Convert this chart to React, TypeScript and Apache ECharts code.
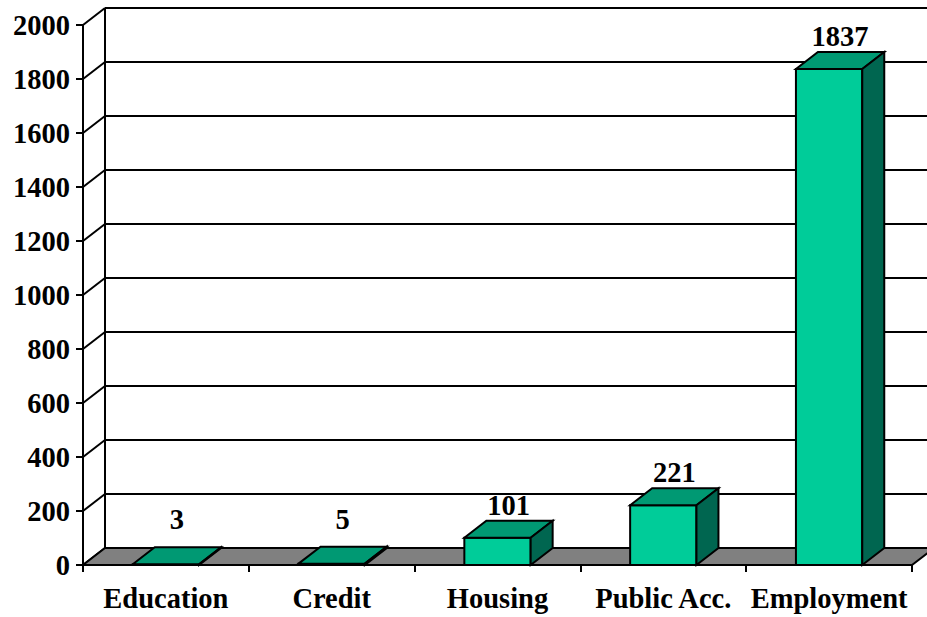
import React, { useEffect, useRef } from "react";
import * as echarts from "echarts";

const categories = ["Education", "Credit", "Housing", "Public Acc.", "Employment"];
const values = [3, 5, 101, 221, 1837];
const yTicks = [0, 200, 400, 600, 800, 1000, 1200, 1400, 1600, 1800, 2000];

const DX = 22;
const DY = -17;
const FONT = "'Liberation Serif', 'Times New Roman', serif";
const FS = 28.5;

export default function App() {
  const ref = useRef<HTMLDivElement>(null);
  useEffect(() => {
    if (!ref.current) return;
    const chart = echarts.init(ref.current, undefined, { renderer: "svg" });
    const lineStyle = { stroke: "#000", lineWidth: 2 };
    const option: any = {
      animation: false,
      backgroundColor: "#fff",
      grid: { left: 83, right: 15, top: 25, bottom: 52, containLabel: false },
      xAxis: {
        type: "category",
        data: categories,
        boundaryGap: true,
        axisLine: { show: true, lineStyle: { color: "#000", width: 2 } },
        axisTick: { show: true, length: 7, lineStyle: { color: "#000", width: 2 } },
        axisLabel: {
          interval: 0,
          hideOverlap: false,
          color: "#000",
          fontFamily: FONT,
          fontWeight: "bold",
          fontSize: FS,
          margin: 19,
        },
        splitLine: { show: false },
        z: 5,
      },
      yAxis: {
        type: "value",
        min: 0,
        max: 2000,
        interval: 200,
        axisLine: { show: true, lineStyle: { color: "#000", width: 2 } },
        axisTick: { show: true, length: 7, lineStyle: { color: "#000", width: 2 } },
        axisLabel: {
          formatter: (v: number) => String(v),
          color: "#000",
          fontFamily: FONT,
          fontWeight: "bold",
          fontSize: FS,
          margin: 13,
        },
        splitLine: { show: false },
        z: 5,
      },
      series: [
        {
          type: "custom",
          z: 1,
          silent: true,
          data: yTicks.map((v) => [0, v]),
          renderItem: (params: any, api: any) => {
            const cs = params.coordSys;
            const y = api.coord([0, api.value(1)])[1];
            const x0 = cs.x;
            const x1 = cs.x + cs.width;
            const children: any[] = [
              { type: "line", shape: { x1: x0, y1: y, x2: x0 + DX, y2: y + DY }, style: lineStyle },
              { type: "line", shape: { x1: x0 + DX, y1: y + DY, x2: x1 + DX, y2: y + DY }, style: lineStyle },
            ];
            if (params.dataIndex === 0) {
              const yTop = api.coord([0, yTicks[yTicks.length - 1]])[1];
              children.push({
                type: "line",
                shape: { x1: x0 + DX, y1: yTop + DY, x2: x0 + DX, y2: y + DY },
                style: lineStyle,
              });
            }
            return { type: "group", children };
          },
        },
        {
          type: "custom",
          z: 2,
          silent: true,
          data: [[0, 0]],
          renderItem: (params: any, api: any) => {
            const cs = params.coordSys;
            const y = api.coord([0, 0])[1];
            const x0 = cs.x;
            const x1 = cs.x + cs.width;
            return {
              type: "polygon",
              shape: { points: [[x0, y], [x1, y], [x1 + DX, y + DY], [x0 + DX, y + DY]] },
              style: { fill: "#808080", stroke: "#000", lineWidth: 2, lineJoin: "miter" },
            };
          },
        },
        {
          type: "custom",
          z: 3,
          silent: true,
          data: values.map((v, i) => [i, v]),
          renderItem: (params: any, api: any) => {
            const i = api.value(0);
            const v = api.value(1);
            const base = api.coord([i, 0]);
            const top = api.coord([i, v])[1];
            const b = base[1];
            const bw = api.size([1, 0])[0] * 0.4;
            const l = base[0] - bw / 2;
            const r = base[0] + bw / 2;
            const st = { stroke: "#000", lineWidth: 2, lineJoin: "miter" };
            return {
              type: "group",
              children: [
                {
                  type: "polygon",
                  shape: { points: [[l, top], [r, top], [r, b], [l, b]] },
                  style: { ...st, fill: "#00CC99" },
                },
                {
                  type: "polygon",
                  shape: { points: [[l, top], [l + DX, top + DY], [r + DX, top + DY], [r, top]] },
                  style: { ...st, fill: "#009973" },
                },
                {
                  type: "polygon",
                  shape: { points: [[r, top], [r + DX, top + DY], [r + DX, b + DY], [r, b]] },
                  style: { ...st, fill: "#006650" },
                },
                {
                  type: "text",
                  style: {
                    x: base[0] + DX / 2,
                    y: Math.min(top + DY - 1, 534),
                    text: String(v),
                    fill: "#000",
                    font: `bold ${FS}px ${FONT}`,
                    textAlign: "center",
                    textVerticalAlign: "bottom",
                  },
                },
              ],
            };
          },
        },
      ],
    };
    chart.setOption(option);
    return () => chart.dispose();
  }, []);
  return (
    <div
      ref={ref}
      style={{ position: "fixed", left: 0, top: 0, width: 927, height: 617, background: "#fff" }}
    />
  );
}
